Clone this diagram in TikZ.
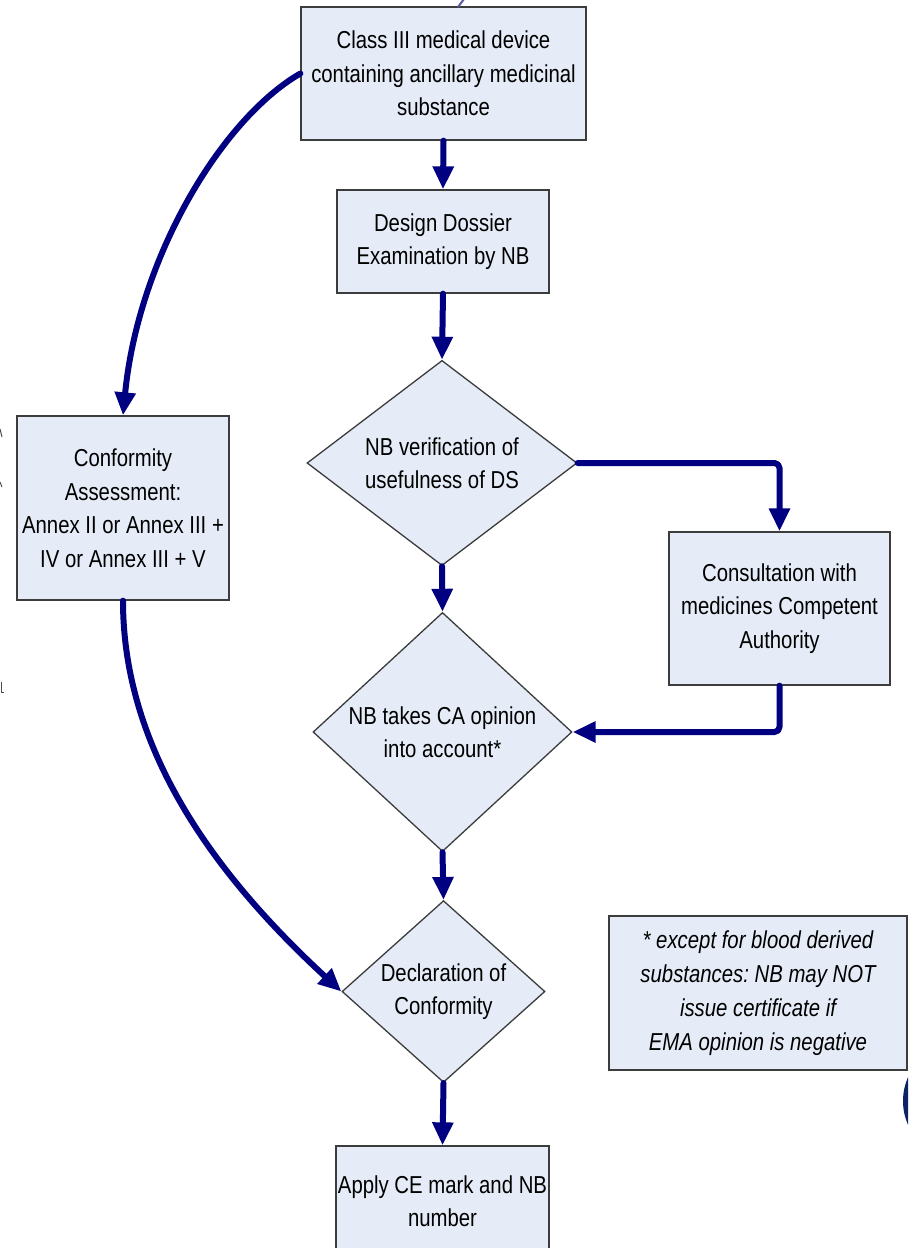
\documentclass[tikz,border=0pt]{standalone}
\usepackage{fontspec}
\setmainfont{Liberation Sans}[FakeStretch=0.83]
\usetikzlibrary{arrows.meta,shapes.geometric}
\frenchspacing
\definecolor{boxfill}{RGB}{229,236,247}
\definecolor{boxline}{RGB}{60,60,60}
\definecolor{flow}{RGB}{0,0,128}
\definecolor{deepblue}{RGB}{12,36,100}
\tikzset{
  base/.style={draw=boxline, line width=1.3pt, fill=boxfill, align=center,
    font=\fontsize{24.5}{33.5}\selectfont, inner sep=0pt},
  stepbox/.style={base, rectangle},
  choice/.style={base, diamond},
  flowline/.style={draw=flow, line width=6pt, line cap=round, line join=round,
    -{Triangle[length=23pt,width=20pt]}},
}
\begin{document}
\begin{tikzpicture}[x=1pt, y=-1pt]
  \useasboundingbox (0,0) rectangle (908,1248);
  \clip (0,0) rectangle (908,1248);

  % boxes
  \node[stepbox, minimum width=285, minimum height=133] (top) at (443.5,73.5)
    {Class III medical device\\containing ancillary medicinal\\substance};
  \node[stepbox, minimum width=212, minimum height=103] (dde) at (443,241.5)
    {Design Dossier\\Examination by NB};
  \node[choice, minimum width=270, minimum height=200] (d1) at (442,463)
    {NB verification of\\usefulness of DS};
  \node[stepbox, minimum width=221, minimum height=153] (cons) at (779.5,608.5)
    {Consultation with\\medicines Competent\\Authority};
  \node[choice, minimum width=259, minimum height=206] (d2) at (442.5,732)
    {NB takes CA opinion\\into account*};
  \node[stepbox, minimum width=212, minimum height=184] (conf) at (123,508)
    {Conformity\\Assessment:\\Annex II or Annex III +\\IV or Annex III + V};
  \node[choice, minimum width=203, minimum height=165] (d3) at (443.5,991.5)
    {Declaration of\\Conformity};
  \node[stepbox, minimum width=213, minimum height=110] (ce) at (442.5,1201)
    {Apply CE mark and NB\\number};
  \node[stepbox, minimum width=298, minimum height=154,
    font=\fontsize{24.5}{34}\selectfont\itshape] (note) at (758,993)
    {* except for blood derived\\substances: NB may NOT\\issue certificate if\\EMA opinion is negative};

  % connectors
  \draw[flowline] (top.south) -- (dde.north);
  \draw[flowline] (dde.south) -- (d1.north);
  \draw[flowline] (d1.south) -- (d2.north);
  \draw[flowline, rounded corners=5pt] (d1.east) -| (cons.north);
  \draw[flowline, rounded corners=5pt] (cons.south) |- (d2.east);
  \draw[flowline] (d2.south) -- (d3.north);
  \draw[flowline] (d3.south) -- (ce.north);
  \draw[flowline] (top.west) .. controls (220,120) and (138,260) .. (conf.north);
  \draw[flowline] (conf.south) .. controls (123,750) and (215,875) .. (d3.west);

  % fragments along the edges
  \draw[gray!70!blue, line width=2pt] (458,7) -- (464,-1);
  \fill[deepblue] (962,1101) circle (59);
  \draw[gray!60!black, line width=1pt] (0,429) -- (2,437);
  \draw[gray!60!black, line width=1pt] (0,482) -- (2,487);
  \draw[gray!60!black, line width=1pt] (1.5,682) -- (1.5,692) -- (4,692);
\end{tikzpicture}
\end{document}
